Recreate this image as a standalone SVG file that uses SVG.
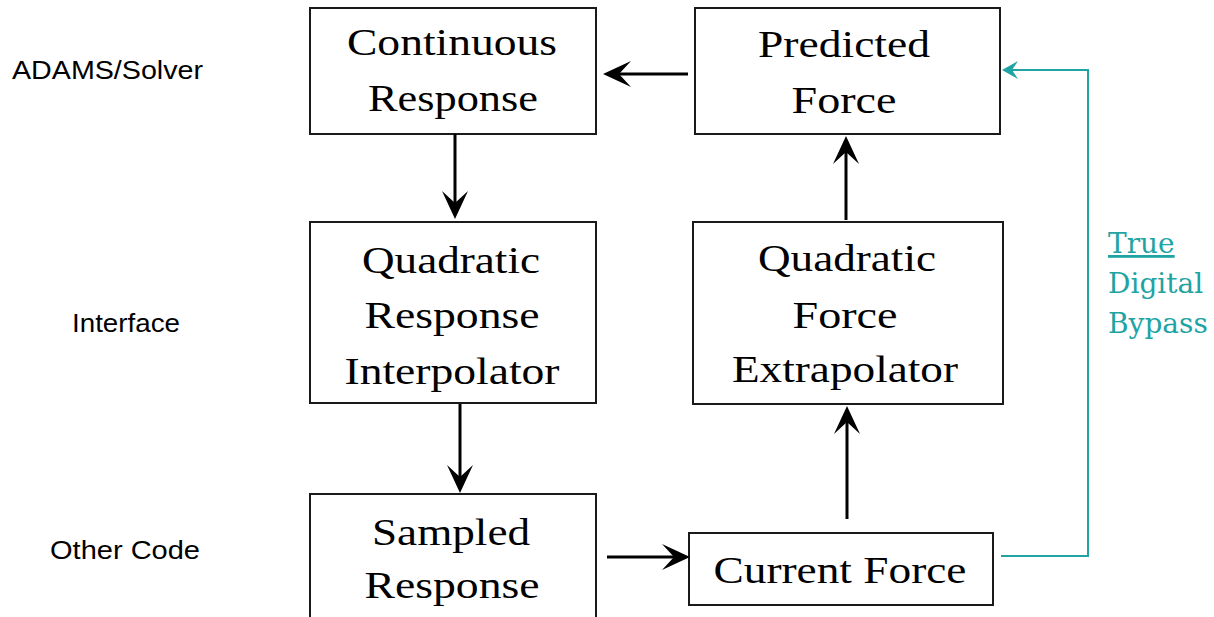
<svg xmlns="http://www.w3.org/2000/svg" width="1214" height="617" viewBox="0 0 1214 617">
  <style>
    .box { fill: #ffffff; stroke: #1a1a1a; stroke-width: 2; }
    .lbl { font-family: "Liberation Serif", "Times New Roman", serif; font-size: 37px; fill: #000; text-anchor: middle; }
    .layer { font-family: "Liberation Sans", Arial, sans-serif; font-size: 26px; fill: #000; }
    .flow { fill: none; stroke: #000; stroke-width: 3; marker-end: url(#head); }
    .bypass { fill: none; stroke: #1fa3a3; stroke-width: 2; }
    .note { font-family: "DejaVu Serif", serif; font-size: 28px; fill: #1fa3a3; }
  </style>
  <defs>
    <marker id="head" markerUnits="userSpaceOnUse" viewBox="0 0 28 28" markerWidth="28" markerHeight="28" refX="22" refY="14" orient="auto">
      <path d="M28,14 L0,1 L12,14 L0,27 Z" fill="#000"/>
    </marker>
    <marker id="headTeal" markerUnits="userSpaceOnUse" viewBox="0 0 16 18" markerWidth="16" markerHeight="18" refX="14" refY="9" orient="auto">
      <path d="M16,9 L0,0 L6,9 L0,18 Z" fill="#1fa3a3"/>
    </marker>
  </defs>

  <rect width="1214" height="617" fill="#ffffff"/>

  <!-- layer labels -->
  <g id="layers">
    <text class="layer" x="12" y="79" textLength="191" lengthAdjust="spacingAndGlyphs">ADAMS/Solver</text>
    <text class="layer" x="72" y="332" textLength="108" lengthAdjust="spacingAndGlyphs">Interface</text>
    <text class="layer" x="50" y="559" textLength="150" lengthAdjust="spacingAndGlyphs">Other Code</text>
  </g>

  <g id="continuous-response">
    <rect class="box" x="310" y="8" width="286" height="126"/>
    <text class="lbl" x="452" y="55" textLength="210" lengthAdjust="spacingAndGlyphs">Continuous</text>
    <text class="lbl" x="453" y="111" textLength="170" lengthAdjust="spacingAndGlyphs">Response</text>
  </g>

  <g id="predicted-force">
    <rect class="box" x="695" y="8" width="305" height="126"/>
    <text class="lbl" x="844" y="57" textLength="172" lengthAdjust="spacingAndGlyphs">Predicted</text>
    <text class="lbl" x="844" y="113" textLength="105" lengthAdjust="spacingAndGlyphs">Force</text>
  </g>

  <g id="response-interpolator">
    <rect class="box" x="310" y="222" width="286" height="181"/>
    <text class="lbl" x="451" y="273" textLength="178" lengthAdjust="spacingAndGlyphs">Quadratic</text>
    <text class="lbl" x="452" y="328" textLength="175" lengthAdjust="spacingAndGlyphs">Response</text>
    <text class="lbl" x="452" y="384" textLength="215" lengthAdjust="spacingAndGlyphs">Interpolator</text>
  </g>

  <g id="force-extrapolator">
    <rect class="box" x="693" y="222" width="310" height="182"/>
    <text class="lbl" x="847" y="271" textLength="178" lengthAdjust="spacingAndGlyphs">Quadratic</text>
    <text class="lbl" x="845" y="328" textLength="105" lengthAdjust="spacingAndGlyphs">Force</text>
    <text class="lbl" x="845" y="382" textLength="226" lengthAdjust="spacingAndGlyphs">Extrapolator</text>
  </g>

  <g id="sampled-response">
    <rect class="box" x="310" y="494" width="286" height="140"/>
    <text class="lbl" x="451" y="545" textLength="158" lengthAdjust="spacingAndGlyphs">Sampled</text>
    <text class="lbl" x="452" y="598" textLength="175" lengthAdjust="spacingAndGlyphs">Response</text>
  </g>

  <g id="current-force">
    <rect class="box" x="689" y="533" width="304" height="72"/>
    <text class="lbl" x="840" y="583" textLength="253" lengthAdjust="spacingAndGlyphs">Current Force</text>
  </g>

  <g id="bypass-label">
    <text class="note" x="1108" y="253" text-decoration="underline">True</text>
    <text class="note" x="1108" y="293">Digital</text>
    <text class="note" x="1108" y="333">Bypass</text>
  </g>

  <!-- connectors -->
  <g id="connectors">
    <line class="flow" x1="455" y1="134" x2="455" y2="213"/>
    <line class="flow" x1="460" y1="404" x2="460" y2="487"/>
    <line class="flow" x1="607" y1="557" x2="684" y2="557"/>
    <line class="flow" x1="847" y1="519" x2="847" y2="412"/>
    <line class="flow" x1="846" y1="220" x2="846" y2="142"/>
    <line class="flow" x1="688" y1="74" x2="609" y2="74"/>
    <polyline class="bypass" points="1001,556 1088,556 1088,70 1004,70" marker-end="url(#headTeal)"/>
  </g>
</svg>
